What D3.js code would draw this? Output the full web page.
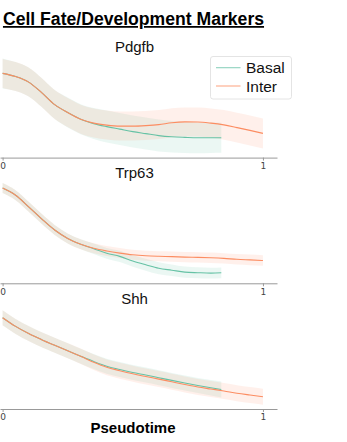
<!DOCTYPE html>
<html>
<head>
<meta charset="utf-8">
<script src="https://cdn.jsdelivr.net/npm/d3@7"></script>
<style>
  body { margin: 0; background: #fff; }
  svg { display: block; font-family: "Liberation Sans", Arial, sans-serif; }
</style>
</head>
<body>
<svg id="chart" width="347" height="442"></svg>
<script>
// pseudotime grid for each lineage
var tInter = [0, 0.05, 0.1, 0.15, 0.2, 0.25, 0.3, 0.35, 0.4, 0.45, 0.5,
              0.55, 0.6, 0.65, 0.7, 0.75, 0.8, 0.85, 0.9, 0.95, 1.0];
var tBasal = [0, 0.05, 0.1, 0.15, 0.2, 0.25, 0.3, 0.35, 0.4, 0.45, 0.5,
              0.55, 0.6, 0.65, 0.7, 0.75, 0.8, 0.84];

var genes = ["Pdgfb", "Trp63", "Shh"];
var lineages = ["Basal", "Inter"];
var xTicks = [0, 1];

// smoothed expression (scaled), one row per gene
var interMean = [
  [0.842, 0.81, 0.755, 0.65, 0.53, 0.45, 0.383, 0.345, 0.325, 0.315, 0.315,
   0.32, 0.33, 0.349, 0.357, 0.356, 0.345, 0.327, 0.30, 0.272, 0.242],
  [0.952, 0.88, 0.765, 0.645, 0.533, 0.449, 0.39, 0.35, 0.323, 0.302, 0.285,
   0.275, 0.27, 0.267, 0.262, 0.259, 0.255, 0.249, 0.24, 0.234, 0.228],
  [0.913, 0.826, 0.754, 0.693, 0.637, 0.583, 0.527, 0.467, 0.417, 0.383, 0.352,
   0.325, 0.299, 0.272, 0.245, 0.22, 0.2, 0.18, 0.158, 0.14, 0.123]
];
var basalMean = [
  [0.842, 0.81, 0.755, 0.65, 0.53, 0.45, 0.383, 0.34, 0.31, 0.285, 0.26,
   0.24, 0.22, 0.208, 0.202, 0.198, 0.198, 0.198],
  [0.952, 0.88, 0.765, 0.645, 0.533, 0.449, 0.39, 0.345, 0.30, 0.269, 0.223,
   0.185, 0.15, 0.131, 0.112, 0.106, 0.102, 0.105],
  [0.913, 0.826, 0.754, 0.693, 0.637, 0.583, 0.528, 0.475, 0.428, 0.395, 0.365,
   0.34, 0.313, 0.286, 0.26, 0.235, 0.212, 0.195]
];
// confidence band half widths
var interCi = [
  [0.145, 0.145, 0.145, 0.145, 0.145, 0.145, 0.145, 0.145, 0.145, 0.145, 0.145,
   0.145, 0.145, 0.145, 0.145, 0.145, 0.147, 0.148, 0.149, 0.15, 0.15],
  [0.05, 0.05, 0.05, 0.05, 0.05, 0.05, 0.05, 0.05, 0.05, 0.05, 0.05,
   0.05, 0.05, 0.051, 0.051, 0.052, 0.052, 0.052, 0.053, 0.053, 0.053],
  [0.075, 0.075, 0.075, 0.075, 0.075, 0.076, 0.077, 0.078, 0.079, 0.08, 0.08,
   0.08, 0.08, 0.08, 0.08, 0.08, 0.08, 0.08, 0.08, 0.08, 0.08]
];
var basalCi = [
  [0.15, 0.145, 0.145, 0.145, 0.145, 0.15, 0.15, 0.155, 0.16, 0.16, 0.16,
   0.16, 0.16, 0.158, 0.156, 0.154, 0.152, 0.15],
  [0.05, 0.05, 0.05, 0.05, 0.05, 0.05, 0.05, 0.052, 0.054, 0.056, 0.058,
   0.06, 0.06, 0.058, 0.056, 0.055, 0.054, 0.054],
  [0.075, 0.075, 0.075, 0.075, 0.075, 0.075, 0.075, 0.075, 0.075, 0.075, 0.075,
   0.075, 0.075, 0.075, 0.075, 0.076, 0.078, 0.08]
];

var colors = { Basal: "#66c2a5", Inter: "#fc8d62" };

var svg = d3.select("#chart");

var x = d3.scaleLinear().domain([-0.01, 1.054]).range([0, 277]);

var panelH = 100;
var firstAxis = 157.6, step = 125.7;

// main title
svg.append("text")
  .attr("x", 133.5).attr("y", 25)
  .attr("text-anchor", "middle")
  .attr("font-size", 17.6).attr("font-weight", "bold")
  .attr("text-decoration", "underline")
  .attr("fill", "#000")
  .text("Cell Fate/Development Markers");

genes.forEach(function(g, i) {
  var axisY = firstAxis + i * step;
  var y = d3.scaleLinear().domain([0, 1]).range([axisY, axisY - panelH]);
  var panel = svg.append("g");

  var series = [
    { name: "Basal", t: tBasal, m: basalMean[i], ci: basalCi[i] },
    { name: "Inter", t: tInter, m: interMean[i], ci: interCi[i] }
  ];

  var area = d3.area()
    .curve(d3.curveMonotoneX)
    .x(function(d) { return x(d.t); })
    .y0(function(d) { return y(d.m - d.ci); })
    .y1(function(d) { return y(d.m + d.ci); });
  var line = d3.line()
    .curve(d3.curveMonotoneX)
    .x(function(d) { return x(d.t); })
    .y(function(d) { return y(d.m); });

  series.forEach(function(s) {
    s.pts = s.t.map(function(t, k) { return { t: t, m: s.m[k], ci: s.ci[k] }; });
  });

  panel.selectAll(".band").data(series).enter().append("path")
    .attr("class", "band")
    .attr("d", function(s) { return area(s.pts); })
    .attr("fill", function(s) { return colors[s.name]; })
    .attr("fill-opacity", 0.13);

  panel.selectAll(".line").data(series).enter().append("path")
    .attr("class", "line")
    .attr("d", function(s) { return line(s.pts); })
    .attr("fill", "none")
    .attr("stroke", function(s) { return colors[s.name]; })
    .attr("stroke-width", 1.1);

  // x axis
  var ax = panel.append("g")
    .attr("transform", "translate(0," + axisY + ")")
    .call(d3.axisBottom(x).tickValues(xTicks).tickSize(3).tickSizeOuter(0).tickFormat(d3.format("d")));
  ax.select(".domain").attr("stroke", "#999");
  ax.selectAll(".tick line").attr("stroke", "#999");
  ax.selectAll(".tick text").attr("fill", "#444").attr("font-size", 9)
    .attr("font-family", "DejaVu Sans, sans-serif").attr("dy", "0.6em");

  // gene title
  panel.append("text")
    .attr("x", 134.5).attr("y", axisY - 105.5)
    .attr("text-anchor", "middle")
    .attr("font-size", 15)
    .attr("fill", "#111")
    .text(g);
});

// legend in first panel
var lg = svg.append("g").attr("transform", "translate(210.5,56.5)");
lg.append("rect")
  .attr("width", 81).attr("height", 42.5).attr("rx", 2.5)
  .attr("fill", "#fff").attr("fill-opacity", 0.8)
  .attr("stroke", "#ddd").attr("stroke-width", 0.8);
lineages.forEach(function(n, k) {
  var yy = 11.2 + k * 18.3;
  lg.append("line")
    .attr("x1", 5.5).attr("x2", 30).attr("y1", yy).attr("y2", yy)
    .attr("stroke", colors[n]).attr("stroke-opacity", 0.75).attr("stroke-width", 1.1);
  lg.append("text")
    .attr("x", 35.5).attr("y", yy + 5.5)
    .attr("font-size", 15.5).attr("fill", "#111")
    .text(n);
});

// x label
svg.append("text")
  .attr("x", 133).attr("y", 432.5)
  .attr("text-anchor", "middle")
  .attr("font-size", 15).attr("font-weight", "bold")
  .attr("fill", "#000")
  .text("Pseudotime");
</script>
</body>
</html>
